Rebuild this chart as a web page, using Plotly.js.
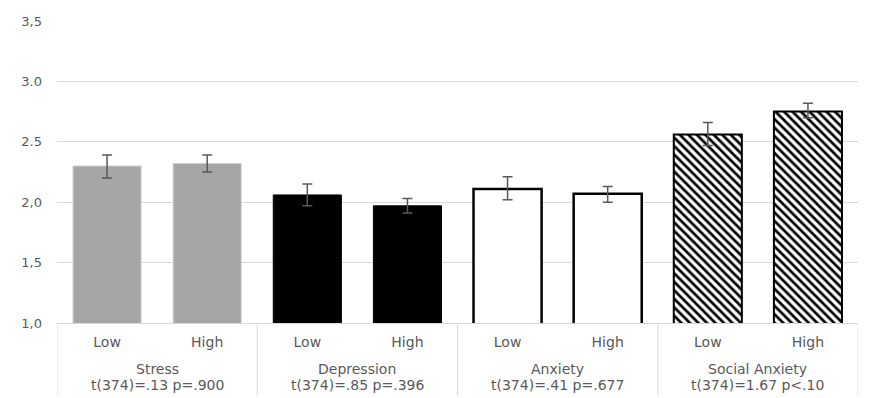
<!DOCTYPE html>
<html>
<head>
<meta charset="utf-8">
<script src="https://cdn.plot.ly/plotly-3.0.1.min.js"></script>
<style>html,body{margin:0;padding:0;background:#fff;}#chart{width:874px;height:398px;}</style>
</head>
<body>
<div id="chart"></div>
<script>
const levels = ["Low", "High"];
const groups = ["Stress", "Depression", "Anxiety", "Social Anxiety"];
const stats = ["t(374)=.13 p=.900", "t(374)=.85 p=.396", "t(374)=.41 p=.677", "t(374)=1.67 p<.10"];
const means = [
  [2.30, 2.32],
  [2.06, 1.97],
  [2.11, 2.07],
  [2.56, 2.75]
];
const errPlus = [
  [0.09, 0.07],
  [0.09, 0.06],
  [0.10, 0.06],
  [0.10, 0.07]
];
const errMinus = [
  [0.10, 0.07],
  [0.09, 0.06],
  [0.09, 0.07],
  [0.09, 0.05]
];
const yTickVals = [1.0, 1.5, 2.0, 2.5, 3.0, 3.5];
const yTickText = ["1,0", "1,5", "2,0", "2.5", "3.0", "3,5"];

const FONT = "DejaVu Sans, sans-serif";
const TXT = "#595959";

const styles = [
  {color: "#a6a6a6", line: {color: "#d0d0d0", width: 1}},
  {color: "#000000", line: {color: "#000000", width: 1}},
  {color: "#ffffff", line: {color: "#000000", width: 2.5}},
  {color: "#ffffff", line: {color: "#000000", width: 2},
   pattern: {shape: "\\", fgcolor: "#000000", bgcolor: "#ffffff", size: 6, solidity: 0.45}}
];

const traces = groups.map((g, gi) => ({
  type: "bar",
  x: levels.map((_, li) => gi * 2 + li),
  y: means[gi],
  width: 0.68,
  marker: styles[gi],
  error_y: {type: "data", symmetric: false, array: errPlus[gi], arrayminus: errMinus[gi],
            color: TXT, thickness: 1.5, width: 5},
  hoverinfo: "skip",
  showlegend: false
}));

const tickVals = [];
const tickText = [];
groups.forEach((g, gi) => levels.forEach((l, li) => { tickVals.push(gi * 2 + li); tickText.push(l); }));

const annotations = [];
groups.forEach((g, gi) => {
  annotations.push({
    x: gi * 2 + 0.5, xref: "x", y: -0.152, yref: "paper", yanchor: "middle",
    text: g, showarrow: false, font: {family: FONT, size: 14, color: TXT}
  });
  annotations.push({
    x: gi * 2 + 0.5, xref: "x", y: -0.205, yref: "paper", yanchor: "middle",
    text: stats[gi], showarrow: false, font: {family: FONT, size: 14, color: TXT}
  });
});

const shapes = [];
for (let i = 0; i <= groups.length; i++) {
  shapes.push({type: "line", xref: "x", yref: "paper", x0: i * 2 - 0.5, x1: i * 2 - 0.5,
    y0: 0, y1: -0.24, line: {color: "#d9d9d9", width: 1}});
}

const layout = {
  width: 874, height: 398,
  margin: {l: 57, r: 16, t: 21, b: 75},
  paper_bgcolor: "#ffffff", plot_bgcolor: "#ffffff",
  xaxis: {range: [-0.5, 7.5], tickvals: tickVals, ticktext: tickText, showgrid: false,
    zeroline: false, showline: true, linecolor: "#d9d9d9", linewidth: 1, ticks: "",
    ticklabelstandoff: 6,
    tickfont: {family: FONT, size: 14, color: TXT}, fixedrange: true},
  yaxis: {range: [1, 3.5], tickvals: yTickVals, ticktext: yTickText, showgrid: true,
    gridcolor: "#d9d9d9", gridwidth: 1, zeroline: false, showline: false, ticks: "",
    ticklabelstandoff: 14,
    tickfont: {family: FONT, size: 13, color: TXT}, fixedrange: true},
  annotations: annotations,
  shapes: shapes
};

Plotly.newPlot("chart", traces, layout, {displayModeBar: false, staticPlot: true});
</script>
</body>
</html>
